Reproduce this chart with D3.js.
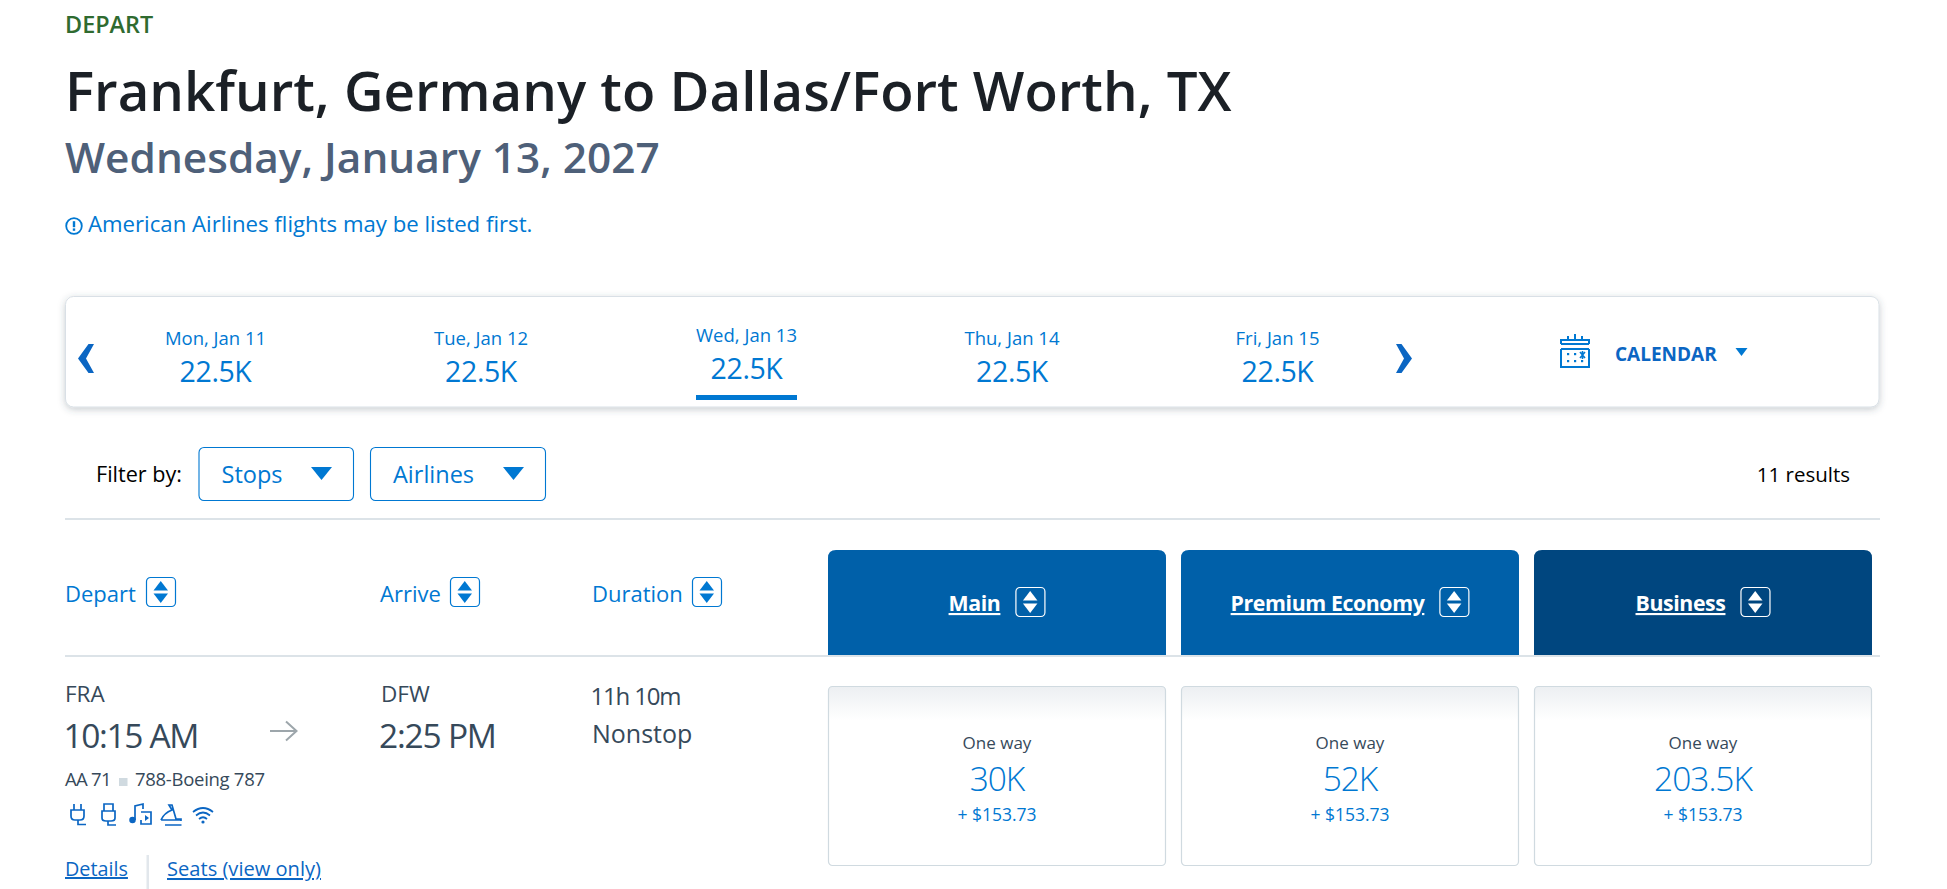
<!DOCTYPE html>
<html>
<head>
<meta charset="utf-8">
<script src="https://cdn.jsdelivr.net/npm/d3@7/dist/d3.min.js"></script>
<style>
  html, body { margin: 0; padding: 0; background: #fff; overflow: hidden; }
  svg { display: block; }
  text { font-family: "Open Sans", sans-serif; }
</style>
</head>
<body>
<div id="chart"></div>
<script>
/* DATA */
const heading = "DEPART";
const title = "Frankfurt, Germany to Dallas/Fort Worth, TX";
const subtitle = "Wednesday, January 13, 2027";
const notice = "American Airlines flights may be listed first.";

const dateLabels = ["Mon, Jan 11", "Tue, Jan 12", "Wed, Jan 13", "Thu, Jan 14", "Fri, Jan 15"];
const datePrices = [22.5, 22.5, 22.5, 22.5, 22.5];
const selectedDate = "Wed, Jan 13";

const filters = ["Stops", "Airlines"];
const resultCount = 11;

const cabins = ["Main", "Premium Economy", "Business"];
const cabinMiles = [30, 52, 203.5];
const cabinFees = [153.73, 153.73, 153.73];

const width = 1947, height = 889;
const blue = "#0078d2", linkBlue = "#0b66c3", dark = "#36495a", rule = "#d0dae0";

const svg = d3.select("#chart").append("svg")
  .attr("width", width)
  .attr("height", height);

const defs = svg.append("defs");

const shadow = defs.append("filter").attr("id", "cardShadow")
  .attr("x", "-2%").attr("y", "-20%").attr("width", "104%").attr("height", "150%");
shadow.append("feDropShadow")
  .attr("dx", 0).attr("dy", 2).attr("stdDeviation", 3.5)
  .attr("flood-color", "#36495a").attr("flood-opacity", 0.28);

const fade = defs.append("linearGradient").attr("id", "fareFade")
  .attr("x1", 0).attr("x2", 0).attr("y1", 0).attr("y2", 1);
fade.append("stop").attr("offset", 0).attr("stop-color", "#eceff2");
fade.append("stop").attr("offset", 0.19).attr("stop-color", "#ffffff");

// small helper, most of the page is just text
function label(parent, x, y, str, size, color, weight, anchor) {
  return parent.append("text")
    .attr("x", x).attr("y", y)
    .attr("font-size", size)
    .attr("font-weight", weight || 400)
    .attr("fill", color)
    .attr("text-anchor", anchor || "start")
    .text(str);
}

function triangle(parent, x0, x1, y0, y1, color) {
  // pointing down when y1 > y0, up when y1 < y0
  parent.append("path")
    .attr("d", d3.line()([[x0, y0], [x1, y0], [(x0 + x1) / 2, y1]]) + "Z")
    .attr("fill", color);
}

function sortButton(parent, x, y, color) {
  const g = parent.append("g").attr("transform", `translate(${x},${y})`);
  g.append("rect")
    .attr("x", 0.5).attr("y", 0.5)
    .attr("width", 29).attr("height", 29).attr("rx", 4)
    .attr("fill", "none").attr("stroke", color).attr("stroke-width", 1.2);
  triangle(g, 7.5, 22, 13.5, 4, color);
  triangle(g, 7.5, 22, 16.5, 26, color);
}

/* HEADER TEXT */
label(svg, 65, 33, heading, 23.4, "#2f6b30", 600);
label(svg, 65, 111, title, 54.6, "#1b2026", 600);
label(svg, 65, 173, subtitle, 42.4, "#4e6079", 600);

const noticeIcon = svg.append("g").attr("transform", "translate(74,226)");
noticeIcon.append("circle").attr("r", 7.8).attr("fill", "none").attr("stroke", blue).attr("stroke-width", 1.8);
noticeIcon.append("rect").attr("x", -1.2).attr("y", -4.8).attr("width", 2.4).attr("height", 6).attr("fill", blue);
noticeIcon.append("rect").attr("x", -1.2).attr("y", 2.4).attr("width", 2.4).attr("height", 2.4).attr("fill", blue);
label(svg, 88, 232, notice, 22.2, blue, 400);

/* DATE STRIP */
svg.append("rect")
  .attr("x", 65.5).attr("y", 296.5)
  .attr("width", 1813.5).attr("height", 110.5).attr("rx", 8)
  .attr("fill", "#fff").attr("stroke", "#d9e0e6")
  .attr("filter", "url(#cardShadow)");

const dateX = d3.scalePoint().domain(dateLabels).range([215.5, 1277.5]);

const dates = svg.selectAll("g.date")
  .data(dateLabels.map((d, i) => ({ label: d, price: datePrices[i] })))
  .join("g")
  .attr("class", "date")
  .attr("transform", d => `translate(${dateX(d.label)},${d.label === selectedDate ? -3 : 0})`);

dates.append("text")
  .attr("y", 345).attr("text-anchor", "middle")
  .attr("font-size", 18.5).attr("fill", blue)
  .text(d => d.label);

dates.append("text")
  .attr("y", 382).attr("text-anchor", "middle")
  .attr("font-size", 28.5).attr("fill", blue)
  .attr("letter-spacing", -0.4)
  .text(d => d.price + "K");

svg.append("rect")
  .attr("x", dateX(selectedDate) - 50.5).attr("y", 395)
  .attr("width", 101).attr("height", 5)
  .attr("fill", blue);

// heavy in the middle, thin at the ends; dir is -1 for left, 1 for right
function chevron(tip, dir) {
  const p = [[tip - dir * 16, 344], [tip - dir * 10.5, 344], [tip, 358.5], [tip - dir * 10.5, 373], [tip - dir * 16, 373], [tip - dir * 8, 358.5]];
  svg.append("path").attr("d", d3.line()(p) + "Z").attr("fill", linkBlue);
}
chevron(78, -1);
chevron(1412, 1);

// calendar icon
const cal = svg.append("g").attr("transform", "translate(1560,334)")
  .attr("fill", "none").attr("stroke", blue).attr("stroke-width", 2);
cal.append("path").attr("d", "M1,10 V6 H29 V10 M1,10 H29");
cal.append("path").attr("d", "M8,6 V2 M15,6 V0 M22,6 V2");
cal.append("path").attr("d", "M1,15 V33 H29 V15 M1,15 H29");
d3.cross([8, 15, 22], [20, 27]).forEach(([x, y]) => {
  if (x === 22 && y === 20) return;
  cal.append("rect").attr("x", x - 1).attr("y", y - 1).attr("width", 2.2).attr("height", 2.2)
    .attr("fill", blue).attr("stroke", "none");
});
cal.append("path").attr("d", "M20,18 L25,24 M25,18 L20,24 M22.5,17 V25").attr("stroke-width", 1.6);

label(svg, 1615, 361, "CALENDAR", 19, linkBlue, 700);
triangle(svg, 1735.5, 1747.5, 348, 356, blue);

/* FILTER ROW */
label(svg, 96, 482, "Filter by:", 21.6, "#000", 400);

const filterBoxes = [[198.5, 155.5], [370, 176]]; // x, width of each select
filters.forEach((f, i) => {
  const [x, w] = filterBoxes[i];
  svg.append("rect")
    .attr("x", x + 0.5).attr("y", 447.5)
    .attr("width", w - 1).attr("height", 53).attr("rx", 5)
    .attr("fill", "#fff").attr("stroke", blue).attr("stroke-width", 1.1);
  label(svg, x + 23, 483, f, 23.5, blue, 400);
  triangle(svg, x + w - 43, x + w - 22, 467, 480, blue);
});

label(svg, 1850, 482, resultCount + " results", 20.5, "#000", 400, "end");

svg.append("line")
  .attr("x1", 65).attr("x2", 1880).attr("y1", 519).attr("y2", 519)
  .attr("stroke", rule).attr("stroke-width", 1.5);

/* COLUMN HEADERS */
[["Depart", 65, 146], ["Arrive", 380, 450], ["Duration", 592, 692]].forEach(([t, x, bx]) => {
  label(svg, x, 602, t, 22, blue, 400);
  sortButton(svg, bx, 577, blue);
});

const cabinX = d3.scaleBand()
  .domain(cabins)
  .range([828, 1872])
  .paddingInner(0.0425);

const cabinFill = d3.scaleOrdinal().domain(cabins).range(["#0060a9", "#0060a9", "#00467f"]);

const heads = svg.selectAll("g.cabin")
  .data(cabins)
  .join("g")
  .attr("class", "cabin")
  .attr("transform", d => `translate(${cabinX(d)},0)`);

const bw = cabinX.bandwidth();
const r = 8;
heads.append("path")
  .attr("d", `M0,655 V${550 + r} Q0,550 ${r},550 H${bw - r} Q${bw},550 ${bw},${550 + r} V655 Z`)
  .attr("fill", d => cabinFill(d));

// text and its sort button are centred together in the band
heads.each(function (d) {
  const g = d3.select(this);
  const t = label(g, 0, 611, d, 21.3, "#fff", 700)
    .attr("letter-spacing", -0.4)
    .attr("text-decoration", "underline");
  const w = t.node().getComputedTextLength();
  const x = (bw - (w + 15 + 30)) / 2;
  t.attr("x", x);
  sortButton(g, x + w + 15, 587, "#fff");
});

svg.append("line")
  .attr("x1", 65).attr("x2", 1880).attr("y1", 656).attr("y2", 656)
  .attr("stroke", rule).attr("stroke-width", 1.5);

/* FLIGHT ROW */
label(svg, 65, 702, "FRA", 22.5, dark);
label(svg, 63.5, 748, "10:15 AM", 33.5, dark).attr("textLength", 136);
svg.append("path")
  .attr("d", "M270,731 H296 M286,721.5 L296.5,731 L286,740.5")
  .attr("fill", "none").attr("stroke", "#9da6ab").attr("stroke-width", 2);
label(svg, 381, 702, "DFW", 22.5, dark);
label(svg, 379, 748, "2:25 PM", 33.5, dark).attr("textLength", 118);
label(svg, 590.5, 705, "11h 10m", 24, dark).attr("textLength", 91);
label(svg, 592, 743, "Nonstop", 25, dark);

label(svg, 65, 786, "AA 71", 18.5, dark).attr("textLength", 46.5);
svg.append("rect").attr("x", 119).attr("y", 778).attr("width", 8.5).attr("height", 8).attr("fill", rule);
label(svg, 135, 786, "788-Boeing 787", 18.5, dark).attr("textLength", 130);

// amenity icons, hand drawn outlines
const icons = svg.append("g")
  .attr("fill", "none").attr("stroke", linkBlue).attr("stroke-width", 1.7);
icons.append("path").attr("d", "M74,804 V810 M81,804 V810 M71,810 H84 V816 Q84,820 80,820 H75 Q71,820 71,816 Z M78,820 V824.5 H86");
icons.append("path").attr("d", "M104,804 H113 V811 H104 Z M102,811 H115 V818 Q115,821 111,821 H106 Q102,821 102,818 Z M108,821 V825 H116");
icons.append("path").attr("d", "M135,820 V806 L143,804 V809 M141,812 H151 V824 H141 V820");
icons.append("circle").attr("cx", 132.5).attr("cy", 820).attr("r", 2.4).attr("fill", linkBlue);
icons.append("path").attr("d", "M145,815 L149,818 L145,821 Z").attr("fill", linkBlue).attr("stroke", "none");
icons.append("path").attr("d", "M161,820 Q164,813 172,810 L169,805 H172 L176,819 H181 V821 M161,820 H181 M165,825 H181.5");
icons.append("path").attr("d", "M193,812 Q203,804 213,812 M196,815.5 Q203,809.5 210,815.5 M199,819 Q203,815.5 207,819");
icons.append("circle").attr("cx", 203).attr("cy", 822).attr("r", 1.6).attr("fill", linkBlue).attr("stroke", "none");

label(svg, 65, 876, "Details", 19.8, linkBlue).attr("text-decoration", "underline");
svg.append("rect").attr("x", 146.5).attr("y", 855).attr("width", 2.5).attr("height", 34).attr("fill", "#e2e7ec");
label(svg, 167, 876, "Seats (view only)", 20.1, linkBlue).attr("text-decoration", "underline");

/* FARE CARDS */
const fares = svg.selectAll("g.fare")
  .data(cabins.map((c, i) => ({ cabin: c, miles: cabinMiles[i], fee: cabinFees[i] })))
  .join("g")
  .attr("class", "fare")
  .attr("transform", d => `translate(${cabinX(d.cabin)},0)`);

fares.append("rect")
  .attr("x", 0.5).attr("y", 686.5)
  .attr("width", bw - 1).attr("height", 179).attr("rx", 4)
  .attr("fill", "url(#fareFade)").attr("stroke", rule).attr("stroke-width", 1.2);

fares.append("text")
  .attr("x", bw / 2).attr("y", 749).attr("text-anchor", "middle")
  .attr("font-size", 17).attr("fill", dark)
  .text("One way");

fares.append("text")
  .attr("x", bw / 2).attr("y", 791).attr("text-anchor", "middle")
  .attr("font-size", 33.5).attr("font-weight", 300).attr("fill", blue)
  .attr("letter-spacing", -1)
  .text(d => d.miles + "K");

fares.append("text")
  .attr("x", bw / 2).attr("y", 821).attr("text-anchor", "middle")
  .attr("font-size", 17.5).attr("fill", blue)
  .text(d => "+ $" + d.fee);
</script>
</body>
</html>
